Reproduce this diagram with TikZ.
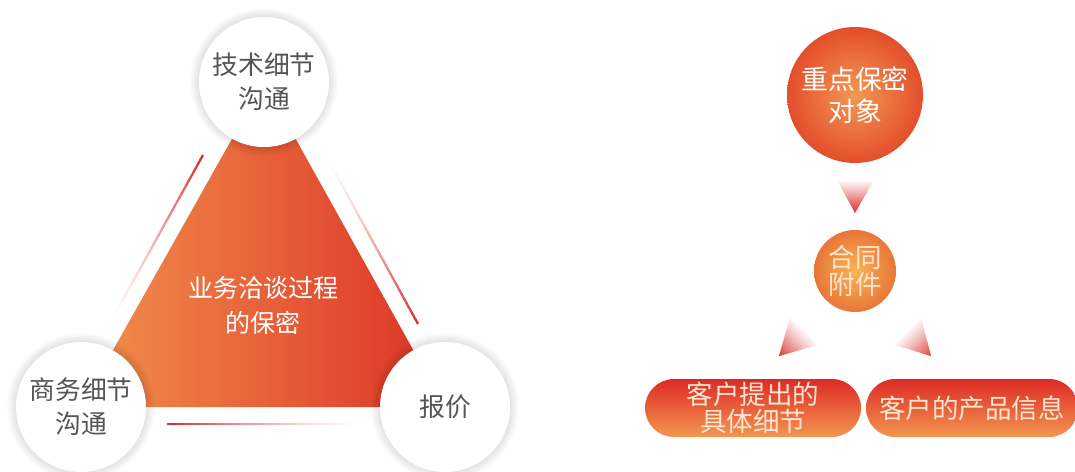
\documentclass[tikz,border=0pt]{standalone}
\usepackage{fontspec}
\newfontfamily\cjk{Noto Sans CJK SC}
\usetikzlibrary{calc}
\definecolor{triL}{RGB}{242,145,76}
\definecolor{triR}{RGB}{220,50,38}
\definecolor{lred}{RGB}{218,45,40}
\definecolor{bigIn}{RGB}{243,152,82}
\definecolor{bigOut}{RGB}{227,78,44}
\definecolor{smIn}{RGB}{248,182,86}
\definecolor{smOut}{RGB}{232,118,56}
\definecolor{pillT}{RGB}{221,42,37}
\definecolor{pillB}{RGB}{243,150,80}
\definecolor{grayText}{RGB}{85,85,85}
\definecolor{paleText}{RGB}{255,228,208}
\begin{document}
\begin{tikzpicture}[x=1pt,y=-1pt,
  whitecirc/.style={circle, fill=white, minimum size=130pt, inner sep=0pt, text=grayText, align=center, font=\cjk\fontsize{25.8}{34}\selectfont},
  bigcirc/.style={circle, inner color=bigIn, outer color=bigOut, minimum size=136pt, inner sep=0pt, text=white, align=center, font=\cjk\fontsize{26.8}{32}\selectfont},
  smallcirc/.style={circle, inner color=smIn, outer color=smOut, minimum size=82pt, inner sep=0pt, text=paleText, align=center, font=\cjk\fontsize{26.5}{27}\selectfont},
  pill/.style={rectangle, rounded corners=29pt, top color=pillT, bottom color=pillB, minimum height=58pt, inner sep=0pt, text=paleText, align=center, font=\cjk\fontsize{26.5}{27}\selectfont},
  centertext/.style={text=white, align=center, font=\cjk\fontsize{25}{35}\selectfont},
  arrowtri/.style={top color=white, bottom color=lred}
]
\path[use as bounding box] (0,0) rectangle (1075,471);

% ---------- left part ----------
\coordinate (cT) at (264,82);
\coordinate (cB) at (81,407);
\coordinate (cP) at (445,407);

\shade[left color=triL, right color=triR] (cT) -- (cB) -- (cP) -- cycle;

% decorative fading lines
\coordinate (l1a) at (203,155); \coordinate (l1b) at (110,323);
\coordinate (l2a) at (418,324); \coordinate (l2b) at (327,158);
\coordinate (l3a) at (167,424); \coordinate (l3b) at (362,424);
\foreach \a/\b in {l1a/l1b, l2a/l2b, l3a/l3b} {
  \foreach \i in {0,...,39} {
    \pgfmathtruncatemacro\p{100*(1-\i/40)^1.4}
    \draw[line width=2.2pt, lred!\p!white] ($(\a)!\i/40!(\b)$) -- ($(\a)!{(\i+1.3)/40}!(\b)$);
  }
}

% soft shadows of the white circles
\foreach \c in {cT,cB,cP} {
  \foreach \k in {1,...,10} {
    \fill[black, opacity=0.012] (\c) circle ({64+\k});
  }
}

\node[whitecirc] (tech) at (cT) {技术细节\\沟通};
\node[whitecirc] (biz) at (cB) {商务细节\\沟通};
\node[whitecirc] (price) at (cP) {报价};
\node[centertext] (center) at (263,305) {业务洽谈过程\\的保密};

% ---------- right part ----------
\node[bigcirc] (key) at (855,95) {重点保密\\对象};
\node[smallcirc] (att) at (855,271) {合同\\附件};
\node[pill, minimum width=216pt] (req) at (753,408) {客户提出的\\具体细节};
\node[pill, minimum width=212pt] (prod) at (972,408) {客户的产品信息};

% pointer triangles (light edge fading into a red tip)
\shade[arrowtri] (837,180) -- (874,180) -- (855,213) -- cycle;
\begin{scope}
  \clip (790,318) -- (818,345) -- (779,356) -- cycle;
  \begin{scope}[shift={(804,331.5)}, rotate=-45]
    \foreach \i in {0,...,19} {
      \pgfmathtruncatemacro\p{100*((\i+0.5)/20)^1.2}
      \fill[lred!\p!white] (-60,{-3+\i*2}) rectangle (60,{-3+\i*2+2.6});
    }
  \end{scope}
\end{scope}
\begin{scope}
  \clip (921,318) -- (895,345) -- (931,356) -- cycle;
  \begin{scope}[shift={(908,331.5)}, rotate=45]
    \foreach \i in {0,...,19} {
      \pgfmathtruncatemacro\p{100*((\i+0.5)/20)^1.2}
      \fill[lred!\p!white] (-60,{-3+\i*2}) rectangle (60,{-3+\i*2+2.6});
    }
  \end{scope}
\end{scope}
\end{tikzpicture}
\end{document}
